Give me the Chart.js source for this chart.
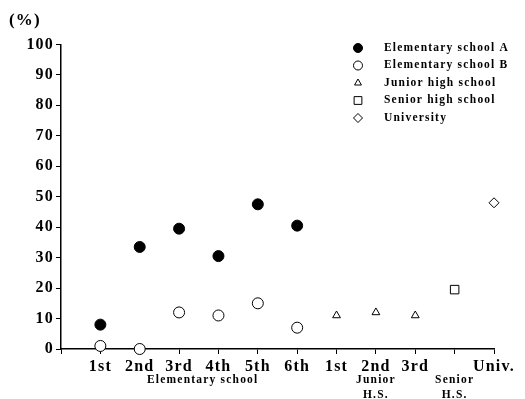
<!DOCTYPE html>
<html>
<head>
<meta charset="utf-8">
<script src="https://cdn.jsdelivr.net/npm/chart.js@4/dist/chart.umd.min.js"></script>
<style>
  html, body { margin: 0; padding: 0; background: #fff; }
  #wrap { width: 525px; height: 399px; }
</style>
</head>
<body>
<div id="wrap"><canvas id="surveyChart"></canvas></div>
<script>
// tick labels along the bottom (index 0 is the axis origin, 10 is senior h.s.)
const xLabels = ['', '1st', '2nd', '3rd', '4th', '5th', '6th', '1st', '2nd', '3rd', '', 'Univ.'];
const groupLabels = ['Elementary school', ['Junior', 'H.S.'], ['Senior', 'H.S.']];
const groupTicks = [3.6, 8, 10];

// percentages
const elemA = [8, 33.5, 39.5, 30.5, 47.5, 40.5];   // grades 1-6
const elemB = [1, 0, 12, 11, 15, 7];               // grades 1-6
const juniorHS = [11, 12, 11];                     // grades 1-3
const seniorHS = [19.5];
const univ = [48];

const serif = "'Liberation Serif', 'DejaVu Serif', serif";

function toPoints(values, firstIndex) {
  return values.map((v, i) => ({ x: firstIndex + i, y: v }));
}

// the scanned type is wide, so space the letters out a little
const wideText = {
  id: 'wideText',
  beforeLayout(chart) { chart.ctx.letterSpacing = '1.2px'; },
  beforeDraw(chart) { chart.ctx.letterSpacing = '1.2px'; }
};

// legend drawn inside the plot, top right
const cornerLegend = {
  id: 'cornerLegend',
  afterDraw(chart) {
    const ctx = chart.ctx;
    ctx.save();
    ctx.font = 'bold 11.5px ' + serif;
    ctx.letterSpacing = '1.2px';
    ctx.textBaseline = 'middle';
    chart.data.datasets.forEach((ds, i) => {
      const y = 48 + i * 17.5;
      ctx.fillStyle = ds.pointBackgroundColor;
      ctx.strokeStyle = '#000';
      ctx.lineWidth = 1;
      Chart.helpers.drawPoint(ctx, {
        pointStyle: ds.pointStyle,
        radius: ds.legendRadius,
        borderWidth: 1,
        rotation: 0
      }, 358, y);
      ctx.fillStyle = '#000';
      ctx.fillText(ds.label, 384, y);
    });
    ctx.restore();
  }
};

const ctx = document.getElementById('surveyChart').getContext('2d');
const chart = new Chart(ctx, {
  type: 'scatter',
  data: {
    datasets: [
      {
        label: 'Elementary school A',
        data: toPoints(elemA, 1),
        pointStyle: 'circle',
        pointRadius: 5.5,
        legendRadius: 4.5,
        pointBackgroundColor: '#000',
        pointBorderColor: '#000',
        pointBorderWidth: 1,
        clip: false
      },
      {
        label: 'Elementary school B',
        data: toPoints(elemB, 1),
        pointStyle: 'circle',
        pointRadius: 5.5,
        legendRadius: 4.5,
        pointBackgroundColor: '#fff',
        pointBorderColor: '#000',
        pointBorderWidth: 1,
        clip: false
      },
      {
        label: 'Junior high school',
        data: toPoints(juniorHS, 7),
        pointStyle: 'triangle',
        pointRadius: 4.5,
        legendRadius: 4,
        pointBackgroundColor: '#fff',
        pointBorderColor: '#000',
        pointBorderWidth: 1,
        clip: false
      },
      {
        label: 'Senior high school',
        data: toPoints(seniorHS, 10),
        pointStyle: 'rect',
        pointRadius: 6,
        legendRadius: 5.5,
        pointBackgroundColor: '#fff',
        pointBorderColor: '#000',
        pointBorderWidth: 1,
        clip: false
      },
      {
        label: 'University',
        data: toPoints(univ, 11),
        pointStyle: 'rectRot',
        pointRadius: 5,
        legendRadius: 4.5,
        pointBackgroundColor: '#fff',
        pointBorderColor: '#000',
        pointBorderWidth: 1,
        clip: false
      }
    ]
  },
  options: {
    responsive: true,
    maintainAspectRatio: false,
    animation: false,
    layout: { padding: { left: 9, right: 31, top: 0, bottom: 0 } },
    plugins: {
      legend: { display: false },
      tooltip: { enabled: false },
      title: {
        display: true,
        text: '(%)',
        align: 'start',
        color: '#000',
        font: { family: serif, size: 17, weight: 'bold' },
        padding: { top: 10, bottom: 14 }
      }
    },
    scales: {
      x: {
        type: 'linear',
        position: 'bottom',
        min: 0,
        max: 11,
        afterBuildTicks: axis => { axis.ticks = xLabels.map((l, i) => ({ value: i })); },
        afterFit: axis => { axis.height = 24; },
        ticks: {
          autoSkip: false,
          maxRotation: 0,
          padding: 3,
          color: '#000',
          font: { family: serif, size: 16, weight: 'bold' },
          callback: v => xLabels[v]
        },
        grid: { drawOnChartArea: false, tickLength: 5, color: '#000' },
        border: { color: '#000', width: 1.5 }
      },
      groups: {
        type: 'linear',
        position: 'bottom',
        min: 0,
        max: 11,
        afterBuildTicks: axis => { axis.ticks = groupTicks.map(v => ({ value: v })); },
        afterFit: axis => { axis.height = 26; },
        ticks: {
          autoSkip: false,
          maxRotation: 0,
          padding: 0,
          color: '#000',
          font: { family: serif, size: 11.5, weight: 'bold', lineHeight: 1.25 },
          callback: (v, i) => groupLabels[i]
        },
        grid: { display: false, drawTicks: false },
        border: { display: false }
      },
      y: {
        min: 0,
        max: 100,
        afterFit: axis => { axis.width = 52; },
        ticks: {
          stepSize: 10,
          padding: 2,
          color: '#000',
          font: { family: serif, size: 16, weight: 'bold' }
        },
        grid: { drawOnChartArea: false, tickLength: 5, color: '#000' },
        border: { color: '#000', width: 1.5 }
      }
    }
  },
  plugins: [wideText, cornerLegend]
});
</script>
</body>
</html>
